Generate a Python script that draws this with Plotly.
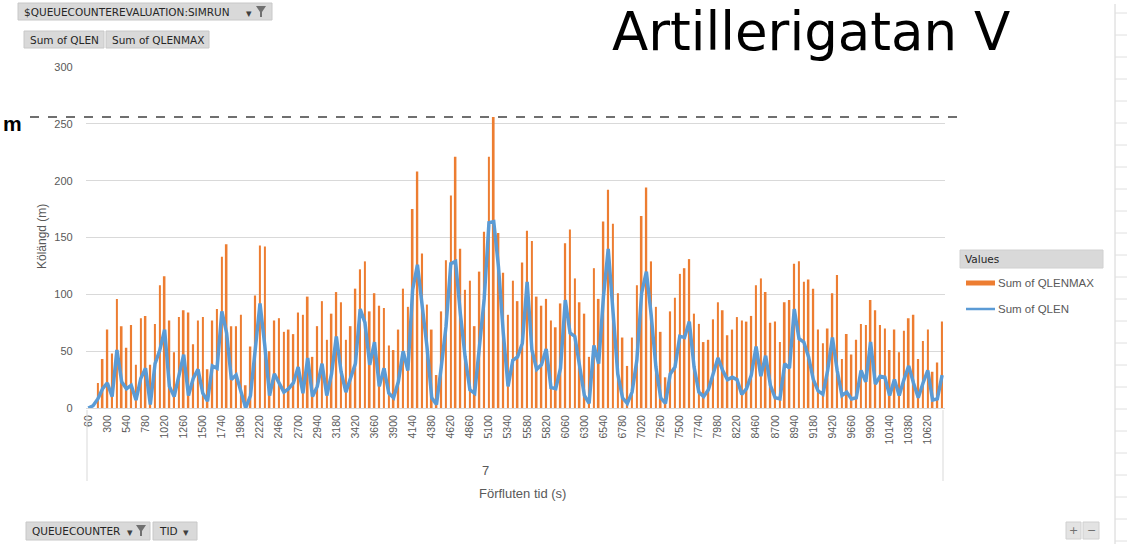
import plotly.graph_objects as go

W, H = 1127, 544

# ---------------- data ----------------
tid = [str(60 * (i + 1)) for i in range(180)]

qlenmax = [
    0, 0, 22, 43, 69, 48, 96, 72, 53, 73, 38, 79, 81, 38, 74, 108, 116, 77, 49, 80,
    86, 84, 56, 77, 80, 34, 77, 87, 133, 144, 72, 72, 82, 20, 54, 99, 143, 142, 50, 77,
    79, 67, 69, 65, 84,
    82, 98, 45, 72, 94, 60, 83, 102, 93, 60, 72, 105, 122, 129, 85, 101, 90, 88, 55, 51,
    69, 105, 89, 175, 208, 136, 91, 69, 29, 85, 130, 187, 221, 140, 104, 112, 72, 120, 155, 221,
    256, 154, 119, 82, 112,
    94, 128, 156, 147, 98, 90, 96, 77, 71, 92, 145, 157, 114, 93, 83, 45, 123, 96, 164, 192,
    162, 101, 62, 37, 62, 108, 169, 194, 129, 89, 67, 27, 85, 97, 118, 123, 131, 83, 74, 58,
    60, 78, 93, 86, 64,
    69, 80, 77, 76, 81, 108, 114, 102, 75, 76, 58, 93, 95, 127, 129, 111, 113, 105, 69, 57,
    70, 101, 117, 43, 65, 47, 60, 74, 73, 95, 86, 73, 70, 51, 69, 49, 68, 79, 82, 43,
    59, 69, 32, 40, 76,
]

qlen = [
    0, 2, 8, 17, 22, 10, 51, 23, 17, 20, 7, 26, 35, 3, 39, 51, 69, 19, 10, 30,
    47, 11, 26, 34, 13, 6, 37, 35, 85, 66, 25, 29, 13, 0, 11, 50, 92, 55, 11, 30,
    22, 14, 17, 22, 36,
    13, 44, 10, 19, 39, 11, 30, 63, 32, 14, 26, 39, 87, 75, 38, 58, 19, 35, 13, 9,
    23, 50, 33, 104, 126, 89, 54, 9, 3, 36, 72, 127, 129, 83, 45, 16, 13, 54, 96, 163,
    164, 124, 66, 19, 42,
    45, 57, 111, 51, 34, 38, 52, 18, 17, 35, 95, 66, 63, 36, 11, 4, 55, 39, 98, 140,
    82, 30, 9, 4, 14, 42, 101, 120, 82, 36, 9, 4, 30, 36, 63, 62, 76, 36, 14, 10,
    16, 30, 44, 33, 25,
    27, 25, 12, 17, 29, 54, 28, 46, 20, 9, 8, 39, 35, 87, 61, 58, 45, 25, 15, 12,
    33, 62, 33, 11, 14, 8, 9, 33, 23, 58, 21, 28, 27, 11, 25, 11, 25, 37, 22, 9,
    22, 33, 7, 8, 29,
]

tick_labels = tid[::4]
y_ticks = [0, 50, 100, 150, 200, 250, 300]
limit_line = 256

title_text = "Artillerigatan V"
series_names = ["Sum of QLENMAX", "Sum of QLEN"]

ORANGE = "#ED7D31"
BLUE = "#5B9BD5"
GRID = "#D9D9D9"
TXT = "#595959"
FONT = "Liberation Sans"
UIFONT = "DejaVu Sans"


def px(x):
    return x / W


def py(y):
    return 1 - y / H


fig = go.Figure()
fig.add_trace(go.Bar(x=tid, y=qlenmax, name=series_names[0], marker_color=ORANGE,
                     marker_line_width=0, showlegend=False))
fig.add_trace(go.Scatter(x=tid, y=qlen, name=series_names[1], mode="lines",
                         line=dict(color=BLUE, width=3.5), showlegend=False))

shapes = []
annotations = []


def rect(x0, y0, x1, y1, fill="#D9D9D9", line="#C8C8C8"):
    shapes.append(dict(type="rect", xref="paper", yref="paper", x0=px(x0), x1=px(x1),
                       y0=py(y1), y1=py(y0), fillcolor=fill, line=dict(color=line, width=1),
                       layer="above"))


def text(x, y, s, size=11, color=TXT, font=FONT, xanchor="left", yanchor="middle", angle=0,
         bold=False, borderpad=1):
    if bold:
        s = "<b>" + s + "</b>"
    annotations.append(dict(x=px(x), y=py(y), xref="paper", yref="paper", text=s, showarrow=False,
                            xanchor=xanchor, yanchor=yanchor, textangle=angle, borderpad=borderpad,
                            font=dict(family=font, size=size, color=color)))


def funnel(x, y):
    path = (f"M {px(x)},{py(y)} L {px(x+10)},{py(y)} L {px(x+6)},{py(y+6)} "
            f"L {px(x+6)},{py(y+11)} L {px(x+4)},{py(y+11)} L {px(x+4)},{py(y+6)} Z")
    shapes.append(dict(type="path", xref="paper", yref="paper", path=path,
                       fillcolor="#707070", line=dict(width=0), layer="above"))


# dashed limit line
shapes.append(dict(type="line", xref="paper", yref="y", x0=px(30), x1=px(958),
                   y0=limit_line, y1=limit_line, line=dict(color="#404040", width=1.5, dash="dash")))
text(1, 124, "m", size=21, color="#000000", bold=True)

# title
text(611, 0, title_text, size=53, color="#000000", font=UIFONT, yanchor="top", borderpad=0)

# pivot field buttons
rect(18, 3, 272, 20)
text(22, 12, "$QUEUECOUNTEREVALUATION:SIMRUN", size=10.5, color="#262626", font=UIFONT)
text(249, 13, "▾", size=11, color="#404040", font=UIFONT, xanchor="center")
funnel(256, 6)
rect(24, 31, 104, 48)
text(28, 40, "Sum of QLEN", size=10.5, color="#262626", font=UIFONT)
rect(106, 31, 209, 48)
text(110, 40, "Sum of QLENMAX", size=10.5, color="#262626", font=UIFONT)

rect(26, 522, 150, 540)
text(30, 531, "QUEUECOUNTER", size=10.5, color="#262626", font=UIFONT)
text(130, 532, "▾", size=11, color="#404040", font=UIFONT, xanchor="center")
funnel(136, 525)
rect(153, 522, 197, 540)
text(157, 531, "TID", size=10.5, color="#262626", font=UIFONT)
text(186, 532, "▾", size=11, color="#404040", font=UIFONT, xanchor="center")

rect(1066, 522, 1081, 539, fill="#E3E3E3", line="#D0D0D0")
text(1073.5, 530, "+", size=11, color="#707070", font=UIFONT, xanchor="center")
rect(1083, 522, 1099, 539, fill="#E3E3E3", line="#D0D0D0")
text(1091, 530, "−", size=11, color="#707070", font=UIFONT, xanchor="center")

# legend (Excel pivot chart style)
rect(960, 250, 1103, 268, fill="#D9D9D9", line="#D0D0D0")
text(963, 259, "Values", size=10.5, color="#262626", font=UIFONT)
shapes.append(dict(type="line", xref="paper", yref="paper", x0=px(966), x1=px(995),
                   y0=py(283), y1=py(283), line=dict(color=ORANGE, width=5)))
text(996, 283, series_names[0], size=11.5, color=TXT)
shapes.append(dict(type="line", xref="paper", yref="paper", x0=px(966), x1=px(995),
                   y0=py(309), y1=py(309), line=dict(color=BLUE, width=2.5)))
text(996, 309, series_names[1], size=11.5, color=TXT)

# axis titles
text(42, 237, "Kölängd (m)", size=12, color=TXT, xanchor="center", angle=-90)
text(485, 470, "7", size=13, color=TXT, xanchor="center")
text(522, 493, "Förfluten tid (s)", size=13, color=TXT, xanchor="center")

# pivot axis separators
for xx in (87, 943):
    shapes.append(dict(type="line", xref="paper", yref="paper", x0=px(xx), x1=px(xx),
                       y0=py(410), y1=py(481), line=dict(color=GRID, width=1)))

# worksheet edge on the right
shapes.append(dict(type="line", xref="paper", yref="paper", x0=px(1115), x1=px(1115),
                   y0=py(4), y1=py(544), line=dict(color="#D4D4D4", width=1)))
for yy in range(13, 544, 22):
    shapes.append(dict(type="line", xref="paper", yref="paper", x0=px(1115), x1=px(1127),
                       y0=py(yy), y1=py(yy), line=dict(color="#E0E0E0", width=1)))

fig.update_layout(
    width=W, height=H,
    margin=dict(l=0, r=0, t=0, b=0, autoexpand=False),
    paper_bgcolor="white", plot_bgcolor="white",
    bargap=0.64,
    shapes=shapes, annotations=annotations,
    xaxis=dict(domain=[px(85.9), px(944.5)], type="category", categoryorder="array",
               categoryarray=tid, tickmode="array", tickvals=tick_labels, ticktext=tick_labels,
               tickangle=-90, tickfont=dict(family=FONT, size=10.5, color=TXT),
               ticks="outside", ticklen=2, tickcolor="rgba(0,0,0,0)", automargin=False,
               showgrid=False, showline=True, linecolor=GRID, linewidth=1, zeroline=False),
    yaxis=dict(domain=[py(408), py(67)], range=[0, 300], tickvals=y_ticks,
               tickfont=dict(family=FONT, size=11, color=TXT), automargin=False,
               ticks="outside", ticklen=10, tickcolor="rgba(0,0,0,0)",
               showgrid=True, gridcolor=GRID, gridwidth=1, zeroline=False, showline=False),
)

fig.write_html("out.html", config={"displayModeBar": False},
               post_script="document.body.style.margin='0';document.body.style.overflow='hidden';")
